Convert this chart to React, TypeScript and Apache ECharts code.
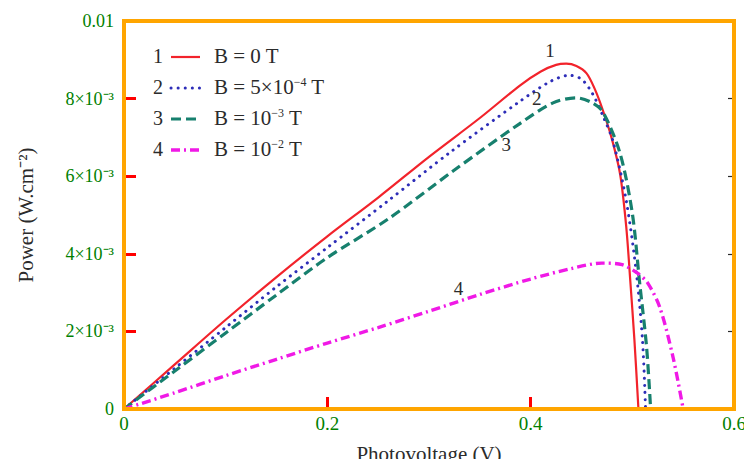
import React, { useEffect, useRef } from "react";
import * as echarts from "echarts";

// Photovoltage (V) vs power, power values in units of 1e-3 W/cm^2
const voltage0T: number[] = [0, 0.05, 0.1, 0.15, 0.2, 0.25, 0.3, 0.35, 0.39, 0.41, 0.425, 0.435, 0.445, 0.455, 0.463, 0.471, 0.48, 0.488, 0.494, 0.498, 0.502, 0.506];
const power0T: number[] = [0, 1.15, 2.3, 3.4, 4.45, 5.45, 6.5, 7.5, 8.35, 8.7, 8.87, 8.9, 8.84, 8.65, 8.25, 7.7, 6.95, 6.05, 4.7, 3.3, 1.8, 0];

const voltage5e4T: number[] = [0, 0.05, 0.1, 0.15, 0.2, 0.26, 0.32, 0.39, 0.42, 0.438, 0.45, 0.461, 0.472, 0.481, 0.494, 0.504, 0.51, 0.513];
const power5e4T: number[] = [0, 1.05, 2.1, 3.15, 4.16, 5.37, 6.6, 7.94, 8.45, 8.6, 8.5, 8.12, 7.5, 6.9, 5.37, 3.5, 1.77, 0];

const voltage1e3T: number[] = [0, 0.05, 0.1, 0.15, 0.2, 0.26, 0.324, 0.389, 0.422, 0.445, 0.46, 0.471, 0.488, 0.5, 0.507, 0.514, 0.518];
const power1e3T: number[] = [0, 0.98, 1.96, 2.94, 3.9, 4.9, 6.14, 7.35, 7.89, 8.02, 7.9, 7.66, 6.58, 5.04, 3.3, 1.6, 0];

const voltage1e2T: number[] = [0, 0.05, 0.1, 0.15, 0.2, 0.25, 0.3, 0.35, 0.4, 0.44, 0.47, 0.49, 0.505, 0.515, 0.527, 0.54, 0.55];
const power1e2T: number[] = [0, 0.42, 0.86, 1.28, 1.7, 2.1, 2.52, 2.95, 3.35, 3.62, 3.76, 3.72, 3.5, 3.25, 2.62, 1.34, 0];

const yTickSuffix = "×10⁻³";

const curveTags: [string, number, number][] = [
  ["1", 0.419, 9.23],
  ["2", 0.406, 8.0],
  ["3", 0.376, 6.82],
  ["4", 0.329, 3.11],
];

const legendNames: string[] = [
  "{n|B = 0 T}",
  "{n|B = 5×10}{s|−4}{n| T}",
  "{n|B = 10}{s|−3}{n| T}",
  "{n|B = 10}{s|−2}{n| T}",
];

const FONT = '"Liberation Serif", "Times New Roman", serif';
const INK = "#2b2b2b";
const COLORS = ["#f2232b", "#2d2db8", "#17806e", "#f019e6"];
const DASHES: (number[] | "solid")[] = ["solid", [0.1, 7], [10, 5], [9, 4, 2, 4]];
const WIDTHS = [2.2, 3, 3.2, 3.4];

const FRAME = { left: 124, right: 18, top: 21, bottom: 58, width: 752, height: 467 };

const zip = (xs: number[], ys: number[]) => xs.map((x, i) => [x, ys[i]]);

export default function App() {
  const ref = useRef<HTMLDivElement>(null);

  useEffect(() => {
    if (!ref.current) return;
    const chart = echarts.init(ref.current, null, { renderer: "svg" });

    const seriesData = [
      zip(voltage0T, power0T),
      zip(voltage5e4T, power5e4T),
      zip(voltage1e3T, power1e3T),
      zip(voltage1e2T, power1e2T),
    ];

    const graphics: any[] = [
      {
        type: "rect",
        silent: true,
        z: 100,
        shape: {
          x: FRAME.left,
          y: FRAME.top,
          width: FRAME.width - FRAME.left - FRAME.right,
          height: FRAME.height - FRAME.top - FRAME.bottom,
        },
        style: { fill: "transparent", stroke: "orange", lineWidth: 4 },
      },
    ];
    const rowY = [56, 87, 118, 149];
    rowY.forEach((y, i) => {
      graphics.push({
        type: "text",
        x: 158,
        y,
        style: { text: String(i + 1), font: `20px ${FONT}`, fill: INK, align: "center", verticalAlign: "middle" },
      });
      const lineStyle: any = { stroke: COLORS[i], lineWidth: WIDTHS[i], lineCap: i === 1 ? "round" : "butt" };
      if (DASHES[i] !== "solid") lineStyle.lineDash = DASHES[i];
      graphics.push({
        type: "line",
        shape: { x1: 171, y1: y + 1, x2: 200, y2: y + 1 },
        style: lineStyle,
      });
      graphics.push({
        type: "text",
        x: 214,
        y,
        style: {
          text: legendNames[i],
          rich: {
            n: { fontFamily: FONT, fontSize: 21, fill: INK, lineHeight: 23 },
            s: { fontFamily: FONT, fontSize: 12, fill: INK, verticalAlign: "top", lineHeight: 23 },
          },
          verticalAlign: "middle",
          align: "left",
        },
      });
    });

    chart.setOption({
      animation: false,
      backgroundColor: "#ffffff",
      grid: { left: FRAME.left, right: FRAME.right, top: FRAME.top, bottom: FRAME.bottom, outerBoundsMode: "none" },
      xAxis: [
        {
          type: "value",
          min: 0,
          max: 0.6,
          interval: 0.2,
          axisLine: { show: true, onZero: false, lineStyle: { color: INK, width: 1.5 } },
          axisTick: { show: true, inside: true, length: 12, lineStyle: { color: "red", width: 3 } },
          splitLine: { show: false },
          axisLabel: { margin: 5, fontFamily: FONT, fontSize: 19, color: "green" },
          name: "Photovoltage (V)",
          nameLocation: "middle",
          nameGap: 34,
          nameTextStyle: { fontFamily: FONT, fontSize: 21, color: INK },
        },
        {
          type: "value",
          position: "top",
          min: 0,
          max: 0.6,
          interval: 0.2,
          axisLine: { show: true, onZero: false, lineStyle: { color: "blue", width: 3 } },
          axisTick: { show: false },
          axisLabel: { show: false },
          splitLine: { show: false },
        },
      ],
      yAxis: [
        {
          type: "value",
          min: 0,
          max: 10,
          interval: 2,
          axisLine: { show: true, onZero: false, lineStyle: { color: INK, width: 1.5 } },
          axisTick: { show: true, inside: true, length: 12, lineStyle: { color: "red", width: 3 } },
          splitLine: { show: false },
          axisLabel: {
            margin: 10,
            fontFamily: FONT,
            fontSize: 18,
            color: "green",
            formatter: (v: number) => {
              const k = Math.round(v);
              if (k === 0) return "0";
              if (k === 10) return "0.01";
              return `${k}${yTickSuffix}`;
            },
          },
          name: "Power (W.cm⁻²)",
          nameLocation: "middle",
          nameRotate: 90,
          nameGap: 88,
          nameTextStyle: { fontFamily: FONT, fontSize: 21, color: INK },
        },
        {
          type: "value",
          position: "right",
          min: 0,
          max: 10,
          interval: 2,
          axisLine: { show: true, onZero: false, lineStyle: { color: "blue", width: 3 } },
          axisTick: { show: true, inside: true, length: 6, lineStyle: { color: INK, width: 1.2 } },
          axisLabel: { show: false },
          splitLine: { show: false },
        },
      ],
      series: seriesData.map((data, i) => ({
        type: "line",
        data,
        showSymbol: false,
        smooth: 0.3,
        lineStyle: {
          color: COLORS[i],
          width: WIDTHS[i],
          type: DASHES[i],
          cap: i === 1 ? "round" : "butt",
        },
        markPoint: {
          symbol: "circle",
          symbolSize: 0,
          silent: true,
          label: {
            show: true,
            position: "inside",
            fontFamily: FONT,
            fontSize: 19,
            color: INK,
            formatter: curveTags[i][0],
          },
          data: [{ coord: [curveTags[i][1], curveTags[i][2]] }],
        },
      })),
      graphic: graphics,
    });

    return () => chart.dispose();
  }, []);

  return <div ref={ref} style={{ width: 752, height: 467, margin: -8 }} />;
}
